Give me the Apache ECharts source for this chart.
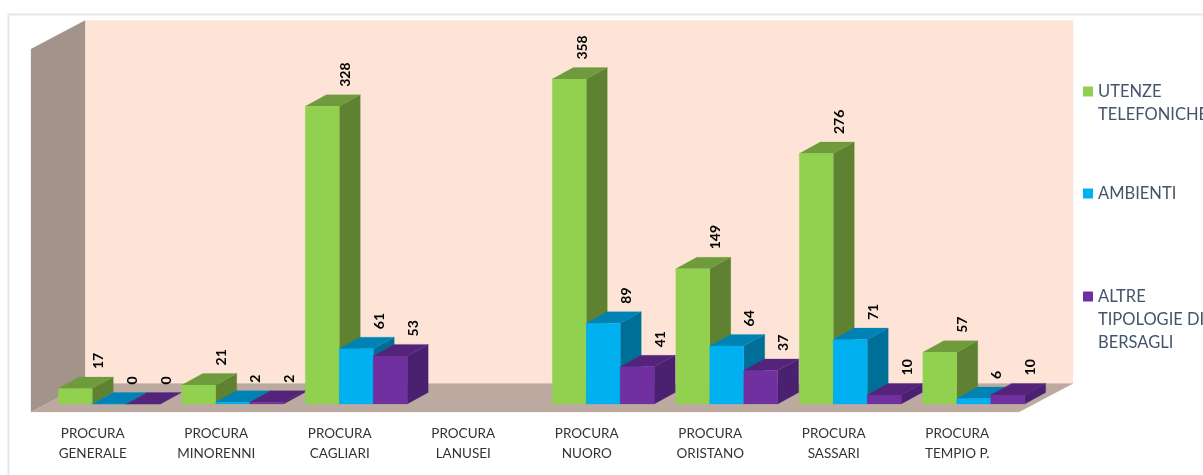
<!DOCTYPE html>
<html>
<head>
<meta charset="utf-8">
<style>html,body{margin:0;padding:0;background:#fff;overflow:hidden}#c{width:1203px;height:475px}</style>
<script src="https://cdn.jsdelivr.net/npm/echarts@6/dist/echarts.min.js"></script>
</head>
<body>
<div id="c"></div>
<script>
const categories = ['PROCURA\nGENERALE','PROCURA\nMINORENNI','PROCURA\nCAGLIARI','PROCURA\nLANUSEI','PROCURA\nNUORO','PROCURA\nORISTANO','PROCURA\nSASSARI','PROCURA\nTEMPIO P.'];
const utenze   = [17, 21, 328, null, 358, 149, 276, 57];
const ambienti = [0, 2, 61, null, 89, 64, 71, 6];
const altre    = [0, 2, 53, null, 41, 37, 10, 10];
const seriesNames = ['UTENZE\nTELEFONICHE', 'AMBIENTI', 'ALTRE\nTIPOLOGIE DI\nBERSAGLI'];
const palettes = [
  {front:'#92d050', top:'#6f9b3c', side:'#5f8232'},
  {front:'#00b0f0', top:'#0083b4', side:'#006f98'},
  {front:'#7030a0', top:'#54247a', side:'#4a2070'}
];
const FONT = 'Lato';
const floorDx = 54, floorDy = -28.5, barShiftX = 16.5, barShiftY = -8, depthDx = 21, depthDy = -11.5;
const AXIS_TOP = 400;

function poly(points, fill) {
  return {type:'polygon', shape:{points}, style:{fill, stroke:fill, lineWidth:0.25}};
}
function wallsItem(params) {
  const c = params.coordSys, l = c.x, r = c.x + c.width, t = c.y, b = c.y + c.height;
  return {type:'group', silent:true, children:[
    poly([[l+floorDx,t+floorDy],[r+floorDx,t+floorDy],[r+floorDx,b+floorDy],[l+floorDx,b+floorDy]], '#fde4d6'),
    poly([[l,t],[l+floorDx,t+floorDy],[l+floorDx,b+floorDy],[l,b]], '#a3948b'),
    poly([[l,b],[l+floorDx,b+floorDy],[r+floorDx,b+floorDy],[r,b]], '#bcaaa0')
  ]};
}
function barRenderer(idx) {
  const pal = palettes[idx];
  return function (params, api) {
    const v = api.value(1);
    if (v === null || v === undefined || isNaN(v)) return {type:'group', children:[]};
    const band = api.size([1, 0])[0];
    const w = band * 0.275;
    const top = api.coord([api.value(0), v]);
    const base = api.coord([api.value(0), 0]);
    const x0 = top[0] + barShiftX + (idx - 1.5) * w;
    const x1 = x0 + w;
    const yt = top[1] + barShiftY, yb = base[1] + barShiftY;
    const dx = depthDx, dy = depthDy;
    const labelDx = v === Math.max(...utenze) ? 13 : 23;
    const cx = (x0 + x1) / 2 + labelDx;
    return {type:'group', children:[
      poly([[x1,yt],[x1+dx,yt+dy],[x1+dx,yb+dy],[x1,yb]], pal.side),
      poly([[x0,yt],[x0+dx,yt+dy],[x1+dx,yt+dy],[x1,yt]], pal.top),
      poly([[x0,yt],[x1,yt],[x1,yb],[x0,yb]], pal.front),
      {type:'text', x:cx, y:yt+dy-8, rotation:Math.PI/2, z2:10,
       style:{text:String(v), fill:'#000', font:'bold 14px '+FONT, align:'left', verticalAlign:'middle'}}
    ]};
  };
}
const seriesValues = [utenze, ambienti, altre];
const chart = echarts.init(document.getElementById('c'), null, {renderer:'canvas'});
const legendBase = {orient:'vertical', left:1083, padding:0, icon:'rect', itemWidth:10, itemHeight:10, selectedMode:false,
  textStyle:{fontFamily:FONT, fontSize:16.5, color:'#44546a', lineHeight:23},
  // blank lines above keep the symbol level with the first line of the name
  formatter:function (name) { return '\u00a0\n'.repeat(name.split('\n').length - 1) + name; }};
chart.setOption({
  animation:false,
  backgroundColor:'#fff',
  textStyle:{fontFamily:FONT},
  color:palettes.map(p=>p.front),
  graphic:[{type:'polyline', silent:true, shape:{points:[[8.5,480],[8.5,14.5],[1210,14.5]]}, style:{stroke:'#e3e8ef', lineWidth:2, fill:null}}],
  legend:[
    Object.assign({}, legendBase, {top:57, data:[seriesNames[0]]}),
    Object.assign({}, legendBase, {top:182, data:[seriesNames[1]]}),
    Object.assign({}, legendBase, {top:239, data:[seriesNames[2]]})
  ],
  grid:{left:31, top:49, width:988, height:363},
  xAxis:{type:'category', data:categories, axisLine:{show:false}, axisTick:{show:false}, splitLine:{show:false},
    axisLabel:{interval:0, margin:12, color:'#333', fontFamily:FONT, fontSize:13.5, lineHeight:20}},
  yAxis:{type:'value', min:0, max:AXIS_TOP, show:false, splitLine:{show:false}},
  series:[
    {type:'custom', name:'walls', silent:true, z:1, clip:false, renderItem:wallsItem, data:[[0,0]], encode:{x:0,y:1}},
  ].concat(seriesNames.map((n,i)=>({
    type:'custom', name:n, z:2+i, clip:false, renderItem:barRenderer(i),
    itemStyle:{color:palettes[i].front},
    encode:{x:0,y:1},
    data:seriesValues[i].map((v,k)=>[k, v])
  })))
});
</script>
</body>
</html>
